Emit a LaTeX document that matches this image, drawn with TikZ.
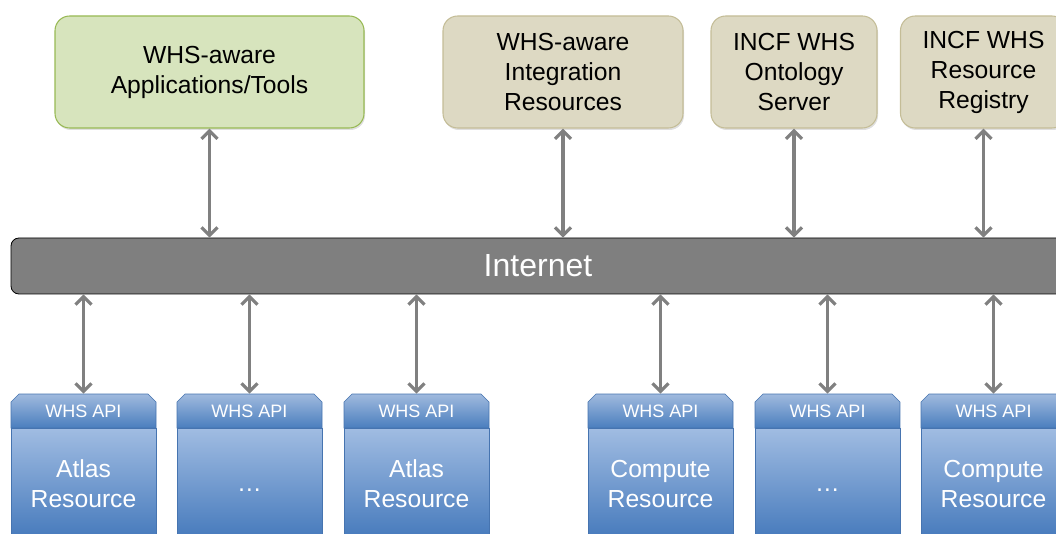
\documentclass[tikz,border=0pt]{standalone}
\usepackage{fontspec}
\setmainfont{Liberation Sans}
\usepackage{tikz}
\usetikzlibrary{arrows.meta,positioning,shapes.misc,shadows}
\definecolor{appgreen}{RGB}{215,228,189}
\definecolor{appborder}{RGB}{152,185,84}
\definecolor{tanfill}{RGB}{221,217,195}
\definecolor{tanborder}{RGB}{196,189,151}
\definecolor{netgray}{RGB}{127,127,127}
\definecolor{linkgray}{RGB}{128,128,128}
\definecolor{apitop}{RGB}{160,186,222}
\definecolor{apibot}{RGB}{74,126,190}
\definecolor{restop}{RGB}{160,188,226}
\definecolor{resbot}{RGB}{70,122,188}
\definecolor{resborder}{RGB}{70,116,176}
\tikzset{
  topbox/.style={rounded corners=11pt, minimum height=84pt, align=center,
    font=\fontsize{18.5}{22.5}\selectfont,
    drop shadow={shadow xshift=0.8pt,shadow yshift=-1.5pt,opacity=0.25}},
  appbox/.style={topbox, fill=appgreen, draw=appborder, line width=0.8pt},
  tanbox/.style={topbox, fill=tanfill, draw=tanborder, line width=0.8pt},
  netbar/.style={rounded corners=6pt, fill=netgray, draw=black, line width=0.6pt,
    minimum width=790.5pt, minimum height=42pt, text=white,
    font=\fontsize{24}{28}\selectfont},
  apibox/.style={chamfered rectangle, chamfered rectangle corners={north west,north east},
    chamfered rectangle xsep=3pt, chamfered rectangle ysep=3pt,
    top color=apitop, bottom color=apibot, draw=resborder, line width=0.5pt,
    minimum width=108.75pt, minimum height=25.5pt, inner sep=0pt, text=white,
    font=\fontsize{13.5}{16}\selectfont},
  resbox/.style={top color=restop, bottom color=resbot, draw=resborder, line width=0.5pt,
    minimum width=108.75pt, minimum height=82.5pt, inner sep=0pt, align=center,
    text=white, font=\fontsize{18.5}{22.5}\selectfont},
  link/.style={linkgray, line width=2.4pt,
    {Straight Barb[length=6pt,width=12pt]}-{Straight Barb[length=6pt,width=12pt]}}
}
\newcommand{\lowdots}{\raisebox{-6pt}[0pt][0pt]{…}}
\begin{document}
\begin{tikzpicture}[x=0.75pt,y=-0.75pt]
  \useasboundingbox (0,0) rectangle (1056,534);
  \clip (0,0) rectangle (1056,534);
  % Top row
  \node[appbox, minimum width=231.75pt] (apps) at (209.5,72) {WHS-aware\\Applications/Tools};
  \node[tanbox, minimum width=180pt] (integ) at (563,72) {WHS-aware\\Integration\\Resources};
  \node[tanbox, minimum width=124.5pt] (onto) at (794,72) {INCF WHS\\Ontology\\Server};
  \node[tanbox, minimum width=124.5pt] (regis) at (983.5,72) {INCF WHS\\Resource\\Registry};
  % Internet
  \node[netbar] (net) at (538,266) {Internet};
  % Resources
  \node[apibox] (api1) at (83.5,411) {WHS API};
  \node[resbox, below=0pt of api1] (res1) {Atlas\\Resource};
  \node[apibox] (api2) at (249.5,411) {WHS API};
  \node[resbox, below=0pt of api2] (res2) {\lowdots};
  \node[apibox] (api3) at (416.5,411) {WHS API};
  \node[resbox, below=0pt of api3] (res3) {Atlas\\Resource};
  \node[apibox] (api4) at (660.5,411) {WHS API};
  \node[resbox, below=0pt of api4] (res4) {Compute\\Resource};
  \node[apibox] (api5) at (827.5,411) {WHS API};
  \node[resbox, below=0pt of api5] (res5) {\lowdots};
  \node[apibox] (api6) at (993.5,411) {WHS API};
  \node[resbox, below=0pt of api6] (res6) {Compute\\Resource};
  % Arrows up
  \draw[link] (apps.south) -- (apps.south |- net.north);
  \draw[link] (integ.south) -- (integ.south |- net.north);
  \draw[link] (onto.south) -- (onto.south |- net.north);
  \draw[link] (regis.south) -- (regis.south |- net.north);
  % Arrows down
  \draw[link] (net.south -| api1.north) -- (api1.north);
  \draw[link] (net.south -| api2.north) -- (api2.north);
  \draw[link] (net.south -| api3.north) -- (api3.north);
  \draw[link] (net.south -| api4.north) -- (api4.north);
  \draw[link] (net.south -| api5.north) -- (api5.north);
  \draw[link] (net.south -| api6.north) -- (api6.north);
\end{tikzpicture}
\end{document}
